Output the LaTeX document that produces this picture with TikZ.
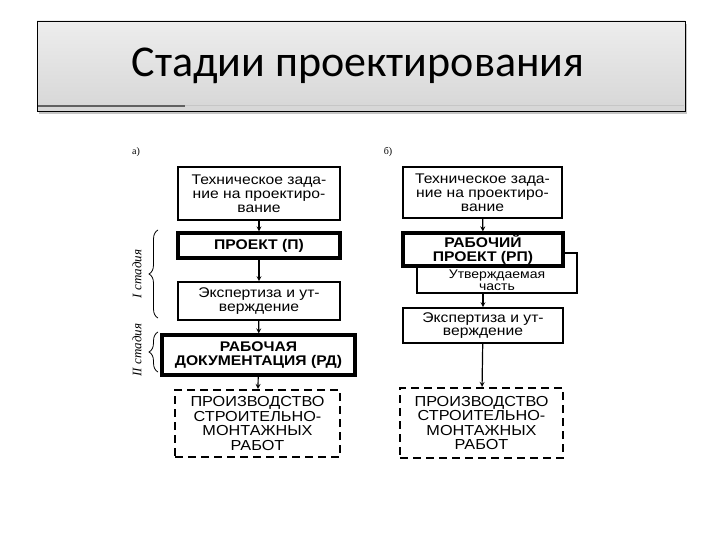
\documentclass[tikz,border=0pt]{standalone}
\usepackage{fontspec}
\usetikzlibrary{decorations.pathreplacing,shadows}
\tikzset{>=stealth}
\newfontfamily\titlefont{Carlito}
\newfontfamily\boxfont[FakeStretch=1.12]{Liberation Sans}
\newfontfamily\stagefont{Liberation Serif}
\tikzset{
	stagebox/.style={draw, fill=white, line width=1.6pt, inner sep=0pt,
		align=center, font=\boxfont\fontsize{14}{13.8}\selectfont},
	mainbox/.style={stagebox, line width=3.2pt, font=\boxfont\bfseries\fontsize{14}{13.8}\selectfont},
	workbox/.style={stagebox, line width=2.2pt, dash pattern=on 8pt off 5pt,
		font=\boxfont\fontsize{14.5}{14.5}\selectfont},
	flow/.style={->, line width=1.2pt},
	stagebrace/.style={decorate, decoration={brace, amplitude=9pt}, line width=0.8pt},
	stagelabel/.style={rotate=90, font=\stagefont\itshape\fontsize{13}{13}\selectfont}
}
\begin{document}
\begin{tikzpicture}[x=1pt,y=-1pt]

	\fill[white] (0,0) rectangle (720,540);
	\useasboundingbox (0,0) rectangle (720,540);

	% title bar
	\shade[top color=gray!14, bottom color=gray!32, draw=black, line width=0.9pt,
		drop shadow={shadow xshift=2pt, shadow yshift=-3pt, opacity=0.45}]
		(37,21) rectangle (685,111);
	\draw[gray!45, line width=1pt] (38,106) -- (684,106);
	\draw[gray!75!black, line width=1.2pt] (38,106) -- (185,106);
	\node[font=\titlefont\fontsize{44}{44}\selectfont] (title) at (358,66) {Стадии проектирования};

	% variant a
	\node[font=\stagefont\fontsize{10}{10}\selectfont] (capA) at (136,152) {а)};
	\node[stagebox, minimum width=162pt, minimum height=53pt] (tzA) at (259,193.5)
		{Техническое зада-\\ние на проектиро-\\вание};
	\node[mainbox, minimum width=162pt, minimum height=25pt] (projA) at (259,245.5)
		{ПРОЕКТ (П)};
	\node[stagebox, minimum width=162pt, minimum height=38pt] (expA) at (259,301)
		{Экспертиза и ут-\\верждение};
	\node[mainbox, minimum width=193pt, minimum height=40pt] (rdA) at (258.5,355)
		{РАБОЧАЯ\\ДОКУМЕНТАЦИЯ (РД)};
	\node[workbox, minimum width=165pt, minimum height=67pt] (smrA) at (257.5,423.5)
		{ПРОИЗВОДСТВО\\СТРОИТЕЛЬНО-\\МОНТАЖНЫХ\\РАБОТ};

	\draw[flow] (tzA) -- (projA);
	\draw[flow] (projA) -- (expA);
	\draw[flow] (expA) -- (rdA);
	\draw[flow] (rdA) -- (smrA);

	\draw[stagebrace] (158,318) -- (158,230);
	\draw[stagebrace] (158,372) -- (158,332);
	\node[stagelabel] (stageI) at (137,274) {I стадия};
	\node[stagelabel] (stageII) at (137,350) {II стадия};

	% variant b
	\node[font=\stagefont\fontsize{10}{10}\selectfont] (capB) at (388,152) {б)};
	\node[stagebox, minimum width=159pt, minimum height=51pt] (tzB) at (482.5,192.5)
		{Техническое зада-\\ние на проектиро-\\вание};
	\node[stagebox, line width=1.4pt, minimum width=160pt, minimum height=40pt] (utvB) at (497,273) {};
	\node[align=center, inner sep=0pt, font=\boxfont\fontsize{12.5}{12}\selectfont] (utvtext)
		at ([yshift=-7.5pt]utvB.center) {Утверждаемая\\часть};
	\node[mainbox, minimum width=160pt, minimum height=33pt] (rpB) at (483,249.5)
		{РАБОЧИЙ\\ПРОЕКТ (РП)};
	\node[stagebox, minimum width=160pt, minimum height=35pt] (expB) at (483,325.5)
		{Экспертиза и ут-\\верждение};
	\node[workbox, minimum width=163pt, minimum height=70pt] (smrB) at (481.5,423)
		{ПРОИЗВОДСТВО\\СТРОИТЕЛЬНО-\\МОНТАЖНЫХ\\РАБОТ};

	\draw[flow] (tzB) -- (rpB);
	\draw[flow] (expB.north |- utvB.south) -- (expB);
	\draw[flow] (expB) -- (smrB);

\end{tikzpicture}
\end{document}
